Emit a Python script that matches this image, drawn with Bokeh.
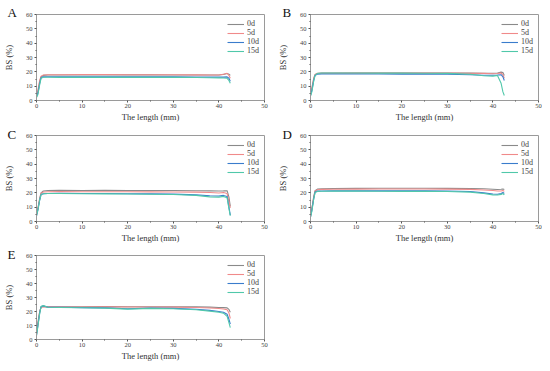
from bokeh.plotting import figure
from bokeh.layouts import column, row
from bokeh.models import Range1d, FixedTicker, Legend, LegendItem, Spacer
from bokeh.embed import file_html
from bokeh.resources import INLINE

x_mm = [0, 0.3, 0.7, 1.0, 1.5, 2.5, 5, 10, 15, 20, 25, 30, 35, 38, 40, 41, 41.8, 42.2, 42.5]
series_names = ["0d", "5d", "10d", "15d"]
series_colors = ["#8a8a8a", "#f08a8a", "#3a7ccc", "#50c8aa"]
x_ticks = [0, 10, 20, 30, 40, 50]
y_ticks = [0, 10, 20, 30, 40, 50, 60]

A_0d = [3, 6, 13, 16.5, 17.5, 17.8, 17.8, 17.8, 17.9, 17.9, 17.9, 17.8, 17.8, 17.8, 17.8, 18.2, 18.8, 18.3, 17.5]
A_5d = [4, 7, 14, 17, 17.8, 18.0, 18.0, 18.1, 18.1, 18.0, 18.0, 18.0, 17.9, 17.8, 17.8, 18.3, 19.0, 17.5, 15.5]
A_10d = [2.5, 5, 12, 16, 16.5, 16.6, 16.6, 16.6, 16.6, 16.5, 16.5, 16.5, 16.4, 16.3, 16.3, 16.3, 16.5, 15.5, 13.5]
A_15d = [2, 4, 11, 15.5, 16.2, 16.2, 16.1, 16.1, 16.2, 16.1, 16.1, 16.1, 16.0, 15.9, 15.8, 15.7, 15.5, 14, 12]

B_0d = [4, 8, 15, 18, 19, 19.1, 19.1, 19.2, 19.2, 19.2, 19.2, 19.2, 19.1, 19.0, 19.0, 19.2, 19.8, 19.5, 17.5]
B_5d = [5, 9, 15.5, 18.2, 18.8, 19, 19, 19.1, 19.1, 19.1, 19.1, 19.1, 19.0, 18.9, 18.7, 18.8, 19.2, 18.0, 15.5]
B_10d = [3.5, 7, 14, 17.5, 18.4, 18.5, 18.5, 18.5, 18.5, 18.4, 18.4, 18.3, 18.0, 17.6, 17.6, 17.8, 18.0, 16.5, 14]
B_15d = [3, 6, 13.5, 17.5, 18.8, 19.2, 19.2, 19.2, 19.1, 19.1, 19.0, 18.9, 18.3, 17.3, 17.0, 17.5, 12, 6, 3.5]

C_0d = [5, 9, 16, 20, 21.3, 21.6, 21.7, 21.6, 21.7, 21.6, 21.6, 21.6, 21.5, 21.4, 21.3, 21.4, 21.5, 17, 10.5]
C_5d = [5, 9, 16, 19.8, 20.6, 20.8, 20.9, 20.8, 20.8, 20.8, 20.7, 20.6, 20.5, 20.2, 19.9, 20.2, 19.5, 14, 9.5]
C_10d = [4, 8, 15, 18.8, 19.4, 19.5, 19.6, 19.5, 19.5, 19.4, 19.3, 19.1, 18.6, 18.0, 17.8, 18.2, 17.5, 10, 4.5]
C_15d = [4, 8, 15, 18.8, 19.4, 19.5, 19.5, 19.4, 19.3, 19.2, 19.0, 18.8, 18.2, 17.2, 17.0, 17.5, 16.5, 9, 4]

D_0d = [4, 9, 17, 21.5, 22.6, 22.9, 23.0, 23.1, 23.2, 23.2, 23.2, 23.1, 23.0, 22.8, 22.5, 22.3, 22.5, 22.7, 22.3]
D_5d = [4, 9, 17, 21.2, 22.2, 22.4, 22.5, 22.6, 22.7, 22.7, 22.7, 22.6, 22.4, 22.0, 21.6, 21.3, 21.3, 21.6, 21.0]
D_10d = [3, 8, 16, 20.5, 21.2, 21.3, 21.4, 21.4, 21.4, 21.4, 21.4, 21.3, 20.9, 20.0, 19.2, 19.0, 19.5, 20.2, 19.5]
D_15d = [3, 7, 15.5, 20.2, 21.0, 21.1, 21.2, 21.2, 21.1, 21.0, 21.0, 20.9, 20.5, 19.5, 18.6, 18.5, 18.9, 19.5, 18.5]

E_0d = [5, 12, 20, 23, 23.6, 23.4, 23.4, 23.4, 23.5, 23.4, 23.4, 23.4, 23.3, 23.1, 22.9, 22.8, 22.6, 21.5, 19.5]
E_5d = [4, 11, 20, 23, 23.5, 23.2, 23.2, 23.2, 23.3, 23.2, 23.2, 23.1, 22.9, 22.5, 22.1, 21.8, 21.3, 19, 15]
E_10d = [3, 10, 19, 23.5, 24, 23, 23, 22.8, 22.6, 22.0, 22.4, 22.2, 21.6, 20.8, 20.0, 19.5, 18.0, 14.5, 11]
E_15d = [3, 9, 18.5, 23.5, 24.2, 23, 22.9, 22.7, 22.4, 21.7, 22.2, 22.0, 21.3, 20.3, 19.5, 18.8, 16.5, 12, 8.5]

panel_letters = ["A", "B", "C", "D", "E"]
panel_data = [
    [A_0d, A_5d, A_10d, A_15d],
    [B_0d, B_5d, B_10d, B_15d],
    [C_0d, C_5d, C_10d, C_15d],
    [D_0d, D_5d, D_10d, D_15d],
    [E_0d, E_5d, E_10d, E_15d],
]

SERIF = "Liberation Serif"


def make_panel(letter, data, left_col, fh, letter_drop):
    bl = 28 if left_col else 34
    br = 10 if left_col else 4
    p = figure(output_backend="svg", toolbar_location=None,
               frame_width=228, frame_height=fh,
               min_border_left=bl, min_border_right=br,
               min_border_top=7, min_border_bottom=0,
               x_range=Range1d(0, 50), y_range=Range1d(0, 60))
    p.background_fill_color = "white"
    p.border_fill_color = "white"
    p.outline_line_color = "#9a9a9a"
    p.outline_line_width = 1
    p.xgrid.visible = False
    p.ygrid.visible = False
    # panel letter as the title, pulled down beside the frame's top-left corner
    p.title.text = letter
    p.title.align = "left"
    p.title.offset = -29 if left_col else -28
    p.title.standoff = -letter_drop
    p.title.text_font = SERIF
    p.title.text_font_size = "13px"
    p.title.text_font_style = "normal"
    p.title.text_color = "#111111"
    items = []
    for name, color, ys in zip(series_names, series_colors, data):
        r = p.line(x_mm, ys, line_color=color, line_width=1.1)
        items.append(LegendItem(label=name, renderers=[r]))
    p.xaxis.ticker = FixedTicker(ticks=x_ticks, minor_ticks=[5, 15, 25, 35, 45])
    p.yaxis.ticker = FixedTicker(ticks=y_ticks, minor_ticks=[5, 15, 25, 35, 45, 55])
    for ax in (p.xaxis[0], p.yaxis[0]):
        ax.axis_line_color = "#9a9a9a"
        ax.major_tick_line_color = "#555555"
        ax.minor_tick_line_color = "#555555"
        ax.major_tick_out = 2
        ax.major_tick_in = 0
        ax.minor_tick_out = 1
        ax.minor_tick_in = 0
        ax.major_label_text_font = SERIF
        ax.major_label_text_font_size = "6.5px"
        ax.major_label_text_color = "#444444"
        ax.axis_label_text_font = SERIF
        ax.axis_label_text_font_style = "normal"
        ax.axis_label_text_color = "#333333"
        ax.axis_label_text_font_size = "8.5px"
    p.xaxis.major_label_standoff = 1
    p.yaxis.major_label_standoff = 2
    p.xaxis.axis_label = "The length (mm)"
    p.yaxis.axis_label = "BS (%)"
    p.xaxis.axis_label_standoff = 1
    p.yaxis.axis_label_standoff = 9
    leg = Legend(items=items, location=(191, fh - 41))
    leg.border_line_color = None
    leg.background_fill_alpha = 0
    leg.label_text_font = SERIF
    leg.label_text_font_size = "8px"
    leg.label_text_color = "#444444"
    leg.glyph_width = 17
    leg.glyph_height = 8
    leg.label_height = 8
    leg.label_standoff = 3
    leg.spacing = 0
    leg.padding = 1
    leg.margin = 0
    p.add_layout(leg)
    return p


pA = make_panel(panel_letters[0], panel_data[0], True, 86, 11)
pB = make_panel(panel_letters[1], panel_data[1], False, 86, 11)
pC = make_panel(panel_letters[2], panel_data[2], True, 86, 12)
pD = make_panel(panel_letters[3], panel_data[3], False, 86, 12)
pE = make_panel(panel_letters[4], panel_data[4], True, 84, 13)

layout = column(Spacer(height=7), row(pA, pB), Spacer(height=4), row(pC, pD),
                Spacer(height=3), row(pE))
open("out.html", "w").write(file_html(layout, INLINE))
